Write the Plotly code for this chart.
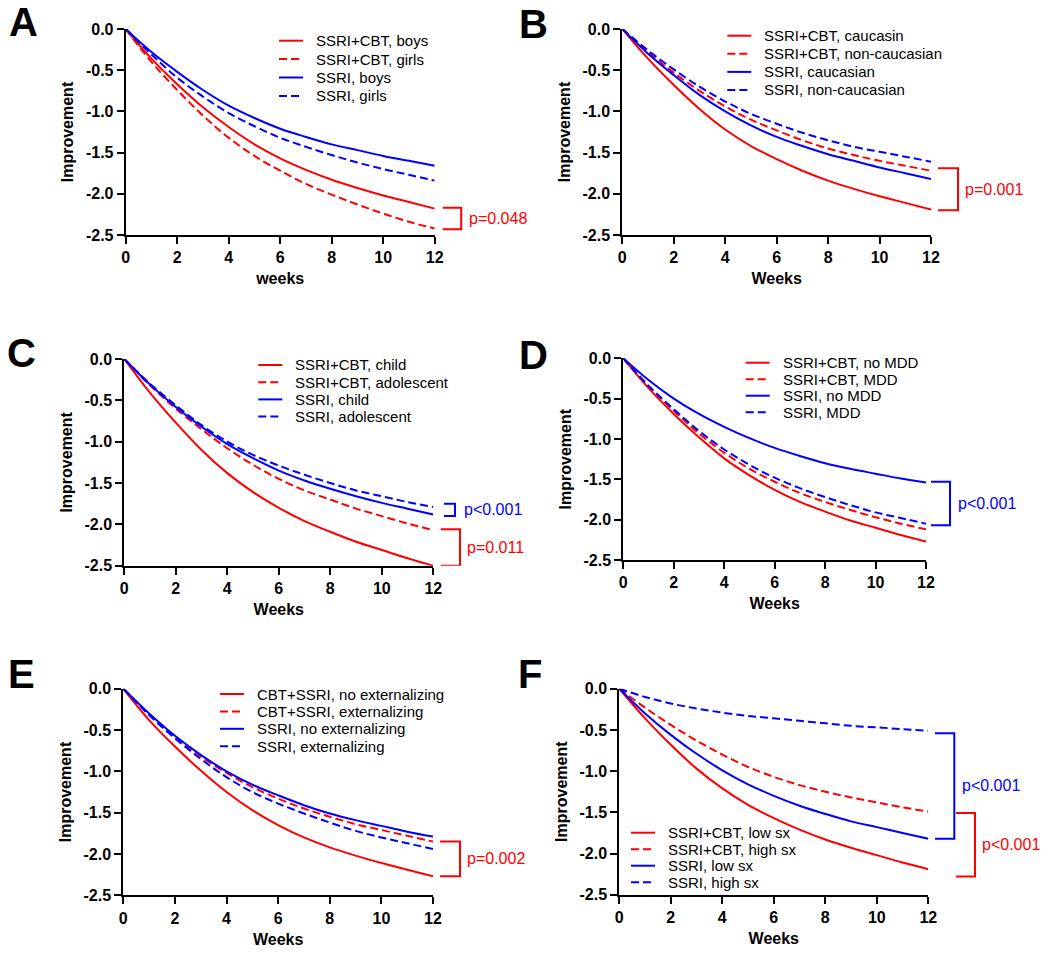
"""
Six-panel trajectory figure: model-estimated improvement over 12 weeks
for SSRI+CBT vs SSRI, split by moderator (sex, race, age, MDD,
externalizing, baseline symptoms).
"""

import plotly.graph_objects as go

W, H = 1050, 954
RED = "#FF0000"
BLUE = "#0000FF"
FONT = "Arial, 'Liberation Sans', Helvetica, sans-serif"
DASH = "8px,4px"

weeks = list(range(13))
x_ticks = [0, 2, 4, 6, 8, 10, 12]
y_ticks = [0.0, -0.5, -1.0, -1.5, -2.0, -2.5]
y_ticktext = ["0.0", "-0.5", "-1.0", "-1.5", "-2.0", "-2.5"]

# --- A: sex
a_combo_boys  = [0, -0.36, -0.67, -0.95, -1.19, -1.40, -1.57, -1.71, -1.83, -1.93, -2.02, -2.10, -2.18]
a_combo_girls = [0, -0.40, -0.74, -1.05, -1.32, -1.54, -1.72, -1.88, -2.01, -2.13, -2.24, -2.34, -2.42]
a_ssri_boys   = [0, -0.28, -0.52, -0.74, -0.93, -1.08, -1.21, -1.31, -1.40, -1.47, -1.54, -1.60, -1.66]
a_ssri_girls  = [0, -0.31, -0.59, -0.82, -1.02, -1.18, -1.32, -1.43, -1.53, -1.62, -1.70, -1.77, -1.84]

# --- B: race
b_combo_cauc    = [0, -0.36, -0.68, -0.97, -1.22, -1.42, -1.58, -1.72, -1.84, -1.94, -2.03, -2.11, -2.19]
b_combo_noncauc = [0, -0.28, -0.53, -0.75, -0.94, -1.10, -1.23, -1.35, -1.45, -1.53, -1.60, -1.66, -1.72]
b_ssri_cauc     = [0, -0.30, -0.56, -0.80, -1.00, -1.17, -1.31, -1.42, -1.52, -1.60, -1.68, -1.75, -1.82]
b_ssri_noncauc  = [0, -0.26, -0.49, -0.70, -0.88, -1.03, -1.15, -1.26, -1.35, -1.43, -1.49, -1.55, -1.61]

# --- C: age
c_combo_child = [0, -0.41, -0.77, -1.10, -1.38, -1.61, -1.80, -1.96, -2.09, -2.21, -2.31, -2.41, -2.50]
c_combo_adol  = [0, -0.32, -0.60, -0.85, -1.08, -1.28, -1.45, -1.59, -1.70, -1.81, -1.90, -1.99, -2.07]
c_ssri_child  = [0, -0.31, -0.58, -0.82, -1.03, -1.20, -1.35, -1.47, -1.57, -1.66, -1.74, -1.81, -1.88]
c_ssri_adol   = [0, -0.30, -0.56, -0.80, -1.00, -1.16, -1.29, -1.40, -1.50, -1.59, -1.66, -1.73, -1.79]

# --- D: comorbid MDD
d_combo_nomdd = [0, -0.37, -0.69, -0.98, -1.24, -1.45, -1.63, -1.78, -1.90, -2.01, -2.10, -2.19, -2.27]
d_combo_mdd   = [0, -0.35, -0.65, -0.93, -1.17, -1.37, -1.53, -1.67, -1.78, -1.88, -1.97, -2.05, -2.12]
d_ssri_nomdd  = [0, -0.27, -0.50, -0.69, -0.85, -0.99, -1.11, -1.21, -1.30, -1.37, -1.43, -1.49, -1.54]
d_ssri_mdd    = [0, -0.34, -0.63, -0.90, -1.13, -1.32, -1.48, -1.61, -1.72, -1.82, -1.91, -1.98, -2.05]

# --- E: externalizing
e_combo_noext = [0, -0.38, -0.70, -0.99, -1.25, -1.47, -1.65, -1.80, -1.92, -2.02, -2.11, -2.19, -2.27]
e_combo_ext   = [0, -0.31, -0.58, -0.82, -1.02, -1.19, -1.33, -1.45, -1.55, -1.64, -1.71, -1.78, -1.85]
e_ssri_noext  = [0, -0.30, -0.57, -0.80, -1.00, -1.16, -1.29, -1.41, -1.51, -1.59, -1.66, -1.73, -1.79]
e_ssri_ext    = [0, -0.32, -0.60, -0.85, -1.07, -1.25, -1.39, -1.51, -1.62, -1.72, -1.80, -1.87, -1.94]

# --- F: baseline symptoms
f_combo_low  = [0, -0.36, -0.68, -0.97, -1.21, -1.41, -1.57, -1.71, -1.83, -1.93, -2.02, -2.11, -2.19]
f_combo_high = [0, -0.23, -0.44, -0.63, -0.80, -0.95, -1.07, -1.17, -1.25, -1.32, -1.38, -1.44, -1.49]
f_ssri_low   = [0, -0.30, -0.56, -0.79, -0.99, -1.16, -1.30, -1.42, -1.52, -1.61, -1.68, -1.75, -1.82]
f_ssri_high  = [0, -0.10, -0.18, -0.24, -0.29, -0.33, -0.36, -0.39, -0.42, -0.45, -0.47, -0.49, -0.51]

# p-value brackets: (top, bottom, label, colour)
a_brackets = [(-2.17, -2.43, "p=0.048", RED)]
b_brackets = [(-1.69, -2.20, "p=0.001", RED)]
c_brackets = [(-1.75, -1.90, "p<0.001", BLUE), (-2.06, -2.50, "p=0.011", RED)]
d_brackets = [(-1.53, -2.07, "p<0.001", BLUE)]
e_brackets = [(-1.85, -2.27, "p=0.002", RED)]
f_brackets = [(-0.54, -1.82, "p<0.001", BLUE), (-1.51, -2.28, "p<0.001", RED)]

# panel: letter, x title, series, brackets
PANELS = [
    ("A", "weeks", [
        ("SSRI+CBT, boys", a_combo_boys, RED, "solid"),
        ("SSRI+CBT, girls", a_combo_girls, RED, DASH),
        ("SSRI, boys", a_ssri_boys, BLUE, "solid"),
        ("SSRI, girls", a_ssri_girls, BLUE, DASH),
    ], a_brackets),
    ("B", "Weeks", [
        ("SSRI+CBT, caucasin", b_combo_cauc, RED, "solid"),
        ("SSRI+CBT, non-caucasian", b_combo_noncauc, RED, DASH),
        ("SSRI, caucasian", b_ssri_cauc, BLUE, "solid"),
        ("SSRI, non-caucasian", b_ssri_noncauc, BLUE, DASH),
    ], b_brackets),
    ("C", "Weeks", [
        ("SSRI+CBT, child", c_combo_child, RED, "solid"),
        ("SSRI+CBT, adolescent", c_combo_adol, RED, DASH),
        ("SSRI, child", c_ssri_child, BLUE, "solid"),
        ("SSRI, adolescent", c_ssri_adol, BLUE, DASH),
    ], c_brackets),
    ("D", "Weeks", [
        ("SSRI+CBT, no MDD", d_combo_nomdd, RED, "solid"),
        ("SSRI+CBT, MDD", d_combo_mdd, RED, DASH),
        ("SSRI, no MDD", d_ssri_nomdd, BLUE, "solid"),
        ("SSRI, MDD", d_ssri_mdd, BLUE, DASH),
    ], d_brackets),
    ("E", "Weeks", [
        ("CBT+SSRI, no externalizing", e_combo_noext, RED, "solid"),
        ("CBT+SSRI, externalizing", e_combo_ext, RED, DASH),
        ("SSRI, no externalizing", e_ssri_noext, BLUE, "solid"),
        ("SSRI, externalizing", e_ssri_ext, BLUE, DASH),
    ], e_brackets),
    ("F", "Weeks", [
        ("SSRI+CBT, low sx", f_combo_low, RED, "solid"),
        ("SSRI+CBT, high sx", f_combo_high, RED, DASH),
        ("SSRI, low sx", f_ssri_low, BLUE, "solid"),
        ("SSRI, high sx", f_ssri_high, BLUE, DASH),
    ], f_brackets),
]

# layout in pixels: plot box (left, top, right, bottom)
BOXES = [
    (125.7, 29.0, 434.7, 235.0),
    (622.3, 29.0, 931.0, 235.0),
    (124.3, 359.0, 433.3, 565.7),
    (623.3, 358.3, 926.0, 560.0),
    (123.3, 688.7, 433.0, 895.3),
    (619.3, 688.7, 928.3, 894.7),
]
# letter centre (x, y)
LETTERS = [(23, 22), (533, 24), (21, 353), (533, 355), (21, 674), (530, 674)]
# legend: line start x, first row y, row spacing
LEGENDS = [
    (279.0, 40.7, 18.4),
    (727.3, 35.7, 18.1),
    (258.3, 365.0, 17.2),
    (745.7, 362.7, 16.5),
    (220.0, 694.0, 17.4),
    (631.0, 832.7, 16.5),
]
# bracket x offsets right of axis end (px): start, vertical, text
BRACKET_X = [
    [(8, 26.5, 32.3)],
    [(7, 27, 32)],
    [(10.7, 21.7, 28.4), (7.4, 26.7, 31.7)],
    [(5, 24, 29.7)],
    [(7, 27, 32)],
    [(6.7, 26, 31.7), (27.7, 46.7, 51.7)],
]


def px(x):
    return x / W


def py(y):
    return 1 - y / H


fig = go.Figure()

for i, (letter, xtitle, series, brackets) in enumerate(PANELS):
    n = "" if i == 0 else str(i + 1)
    xa, ya = "x" + n, "y" + n
    left, top, right, bottom = BOXES[i]
    width = right - left

    for name, vals, color, dash in series:
        fig.add_trace(go.Scatter(
            x=weeks, y=vals, mode="lines", name=name,
            line=dict(color=color, width=2, dash=dash, shape="spline"),
            xaxis=xa, yaxis=ya, showlegend=False,
        ))

    axis_common = dict(
        showline=True, linewidth=2, linecolor="black",
        ticks="outside", ticklen=7, tickwidth=2, tickcolor="black",
        showgrid=False, zeroline=False, automargin=False,
        tickfont=dict(family=FONT, size=16, color="black", weight="bold"),
    )
    fig.update_layout({
        "xaxis" + n: dict(
            axis_common, domain=[px(left), px(right)], anchor=ya,
            range=[0, 12], tickvals=x_ticks,
            title=dict(text=xtitle, standoff=8,
                       font=dict(family=FONT, size=16, color="black", weight="bold")),
        ),
        "yaxis" + n: dict(
            axis_common, domain=[py(bottom), py(top)], anchor=xa,
            range=[-2.5, 0], tickvals=y_ticks, ticktext=y_ticktext,
            title=dict(text="Improvement", standoff=8,
                       font=dict(family=FONT, size=16, color="black", weight="bold")),
        ),
    })

    # panel letter
    lx, ly = LETTERS[i]
    fig.add_annotation(
        text=f"<b>{letter}</b>", xref="paper", yref="paper",
        x=px(lx), y=py(ly), xanchor="center", yanchor="middle",
        showarrow=False, font=dict(family=FONT, size=40, color="black"),
    )

    # hand-placed legend
    gx, gy, gdy = LEGENDS[i]
    for k, (name, _, color, dash) in enumerate(series):
        yy = gy + k * gdy
        fig.add_shape(
            type="line", xref="paper", yref="paper",
            x0=px(gx), x1=px(gx + 24), y0=py(yy), y1=py(yy),
            line=dict(color=color, width=2, dash=dash),
        )
        fig.add_annotation(
            text=name, xref="paper", yref="paper",
            x=px(gx + 35), y=py(yy), xanchor="left", yanchor="middle",
            showarrow=False, font=dict(family=FONT, size=15, color="black"),
        )

    # significance brackets
    for (y_top, y_bot, label, color), (bx0, bx1, tx) in zip(brackets, BRACKET_X[i]):
        x0 = 1 + bx0 / width
        x1 = 1 + bx1 / width
        fig.add_shape(
            type="path", xref=xa + " domain", yref=ya,
            path=f"M {x0},{y_top} L {x1},{y_top} L {x1},{y_bot} L {x0},{y_bot}",
            line=dict(color=color, width=2),
        )
        fig.add_annotation(
            text=label, xref=xa + " domain", yref=ya,
            x=1 + tx / width, y=(y_top + y_bot) / 2,
            xanchor="left", yanchor="middle", showarrow=False,
            font=dict(family=FONT, size=16, color=color),
        )

fig.update_layout(
    width=W, height=H,
    margin=dict(l=0, r=0, t=0, b=0, autoexpand=False),
    paper_bgcolor="white", plot_bgcolor="white",
    font=dict(family=FONT, color="black"),
    showlegend=False,
)

# drop the browser's default body margin so the figure sits at (0, 0)
fig.write_html(
    "out.html",
    config={"displayModeBar": False},
    post_script="document.body.style.margin = '0px';",
)
